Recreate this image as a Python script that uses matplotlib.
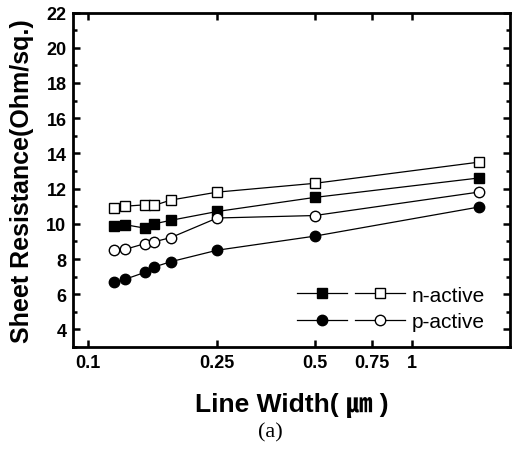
import numpy as np
import matplotlib
matplotlib.use('Agg')
import matplotlib.pyplot as plt
from matplotlib.legend_handler import HandlerTuple
from matplotlib.ticker import FixedLocator, FixedFormatter, NullLocator, MultipleLocator

# line width in um
line_width = [0.12, 0.13, 0.15, 0.16, 0.18, 0.25, 0.5, 1.6]
n_active_filled = [9.9, 9.95, 9.75, 10.0, 10.2, 10.7, 11.5, 12.6]
n_active_open = [10.9, 11.0, 11.08, 11.05, 11.35, 11.8, 12.3, 13.5]
p_active_filled = [6.7, 6.85, 7.25, 7.55, 7.85, 8.5, 9.3, 10.95]
p_active_open = [8.5, 8.55, 8.88, 8.98, 9.22, 10.33, 10.47, 11.8]

x_ticks = [0.1, 0.25, 0.5, 0.75, 1]
x_tick_labels = ['0.1', '0.25', '0.5', '0.75', '1']

plt.rcParams['font.family'] = ['Liberation Sans', 'Noto Sans CJK KR', 'DejaVu Sans']

fig = plt.figure(figsize=(5.13, 4.52), dpi=100)
ax = fig.add_axes([0.143, 0.230, 0.851, 0.740])

ms = 7
h1, = ax.plot(line_width, n_active_filled, '-', color='black', lw=0.9, marker='s', ms=ms,
              mfc='black', mec='black', zorder=3)
h2, = ax.plot(line_width, p_active_filled, '-', color='black', lw=0.9, marker='o', ms=ms + 0.5,
              mfc='black', mec='black', zorder=3)
h3, = ax.plot(line_width, n_active_open, '-', color='black', lw=0.9, marker='s', ms=ms,
              mfc='white', mec='black', mew=1.0, zorder=4)
h4, = ax.plot(line_width, p_active_open, '-', color='black', lw=0.9, marker='o', ms=ms + 0.5,
              mfc='white', mec='black', mew=1.0, zorder=4)

ax.set_xscale('log')
ax.set_xlim(0.09, 2.0)
ax.set_ylim(3, 22)
ax.xaxis.set_major_locator(FixedLocator(x_ticks))
ax.xaxis.set_major_formatter(FixedFormatter(x_tick_labels))
ax.xaxis.set_minor_locator(NullLocator())
ax.yaxis.set_major_locator(FixedLocator(np.arange(4, 23, 2)))
ax.yaxis.set_minor_locator(MultipleLocator(1))

for s in ax.spines.values():
    s.set_linewidth(2.0)
ax.tick_params(which='both', direction='in', top=True, right=True, width=1.8)
ax.tick_params(which='major', length=5, labelsize=13, pad=5)
ax.tick_params(which='minor', length=3)
for lab in ax.get_xticklabels() + ax.get_yticklabels():
    lab.set_fontweight('bold')

ax.set_ylabel('Sheet Resistance(Ohm/sq.)', fontsize=18, fontweight='bold', labelpad=9)
ax.set_xlabel('Line Width( \u339b )', fontsize=19, fontweight='bold', labelpad=15)

ax.legend([(h1, h3), (h2, h4)], ['n-active', 'p-active'],
          handler_map={tuple: HandlerTuple(ndivide=None, pad=0.35)},
          loc='lower right', bbox_to_anchor=(0.985, -0.008), frameon=False,
          fontsize=15, handlelength=5.2, handletextpad=0.3, labelspacing=0.35)

fig.text(0.527, 0.043, '(a)', ha='center', va='center', fontsize=16, family='Liberation Serif')

fig.savefig('out.png', dpi=100)
